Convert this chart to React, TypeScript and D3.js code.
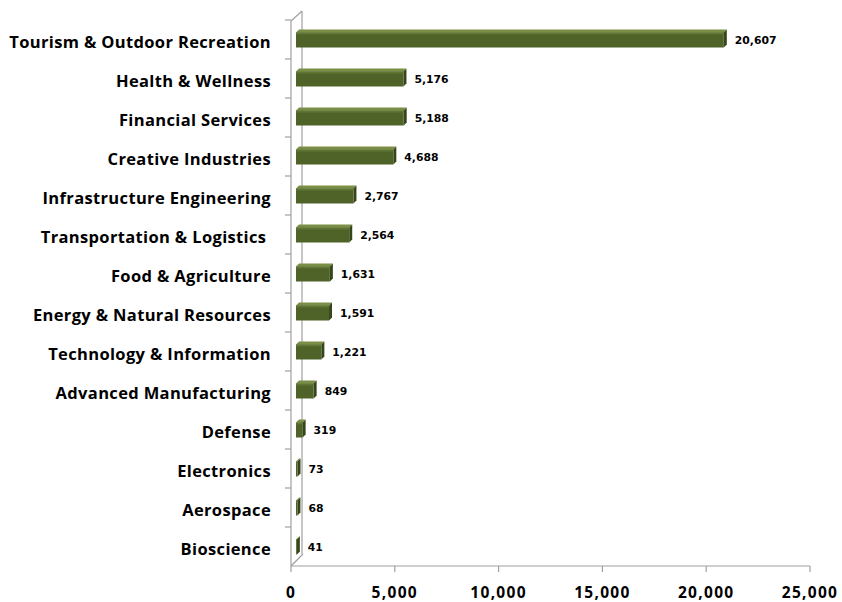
import React from "react";
import * as d3 from "d3";

const categories = [
  "Tourism & Outdoor Recreation",
  "Health & Wellness",
  "Financial Services",
  "Creative Industries",
  "Infrastructure Engineering",
  "Transportation & Logistics ",
  "Food & Agriculture",
  "Energy & Natural Resources",
  "Technology & Information",
  "Advanced Manufacturing",
  "Defense",
  "Electronics",
  "Aerospace",
  "Bioscience",
];
const values = [20607, 5176, 5188, 4688, 2767, 2564, 1631, 1591, 1221, 849, 319, 73, 68, 41];
const xTicks = [0, 5000, 10000, 15000, 20000, 25000];

const W = 842, H = 602;
const axisX0 = 291, axisX1 = 810;
const plotTop = 20, plotBottom = 566;
const depthX = 11, depthY = -10;

export default function App() {
  const x = d3.scaleLinear().domain([0, 25000]).range([axisX0, axisX1]);
  const y = d3.scaleBand<string>().domain(categories).range([plotTop, plotBottom]);
  const fmt = d3.format(",");
  const bw = y.bandwidth();
  const barH = 15;
  const bd = 3; // bar depth offset
  const barShift = 5;
  const gray = "#a0a0a0";

  return (
    <svg width={W} height={H} style={{ position: "fixed", left: 0, top: 0, display: "block", background: "#fff" }}>
      {/* wall */}
      <line x1={axisX0} y1={plotTop + 1} x2={axisX0} y2={plotBottom} stroke={gray} strokeWidth={1.2} />
      <line x1={axisX0 + depthX} y1={plotTop + 1 + depthY} x2={axisX0 + depthX} y2={plotBottom + depthY - 2} stroke={gray} strokeWidth={1.2} />
      <line x1={axisX0} y1={plotTop + 1} x2={axisX0 + depthX} y2={plotTop + 1 + depthY} stroke={gray} strokeWidth={1.2} />
      <line x1={axisX0} y1={plotBottom} x2={axisX0 + depthX + 1} y2={plotBottom + depthY - 2} stroke={gray} strokeWidth={1.2} />
      {/* y ticks */}
      {categories.map((c, i) => (
        <line key={"yt" + i} x1={axisX0 - 6} x2={axisX0} y1={y(c)!} y2={y(c)!} stroke={gray} strokeWidth={1.2} />
      ))}
      {/* x axis */}
      <line x1={axisX0} y1={plotBottom} x2={axisX1} y2={plotBottom} stroke={gray} strokeWidth={1.2} />
      {xTicks.map((t) => (
        <g key={"xt" + t}>
          <line x1={x(t)} x2={x(t)} y1={plotBottom} y2={plotBottom + 6} stroke={gray} strokeWidth={1.2} />
          <text x={x(t)} y={597.5} textAnchor="middle" fontFamily="'Open Sans', sans-serif" fontWeight={700} fontSize={15.5} letterSpacing={1.3} fill="#000">
            {fmt(t)}
          </text>
        </g>
      ))}
      {/* bars */}
      {categories.map((c, i) => {
        const cy = y(c)! + bw / 2 + 0.5;
        const x0 = axisX0 + barShift;
        const x1 = x0 + (x(values[i]) - axisX0);
        const top = cy - barH / 2;
        const bot = cy + barH / 2;
        return (
          <g key={"b" + i}>
            <polygon points={`${x0},${top} ${x0 + bd},${top - bd} ${x1 + bd},${top - bd} ${x1},${top}`} fill="#7a8f45" />
            <polygon points={`${x1},${top} ${x1 + bd},${top - bd} ${x1 + bd},${bot - bd} ${x1},${bot}`} fill="#36461a" />
            <rect x={x0} y={top} width={Math.max(0, x1 - x0)} height={barH} fill="#4f6228" />
            <rect x={x0} y={top} width={Math.max(0, x1 - x0)} height={2} fill="#5f7532" />
            <text x={x1 + bd + 8} y={cy + 1} dominantBaseline="middle" fontFamily="'DejaVu Sans', sans-serif" fontWeight={700} fontSize={10.8} fill="#000">
              {fmt(values[i])}
            </text>
          </g>
        );
      })}
      {/* category labels */}
      {categories.map((c, i) => (
        <text key={"cl" + i} x={271} y={y(c)! + bw / 2 + 8.5} textAnchor="end" fontFamily="'Open Sans', sans-serif" fontWeight={700} fontSize={16.5} letterSpacing={0.35} fill="#000" style={{ whiteSpace: "pre" }}>
          {c}
        </text>
      ))}
    </svg>
  );
}
